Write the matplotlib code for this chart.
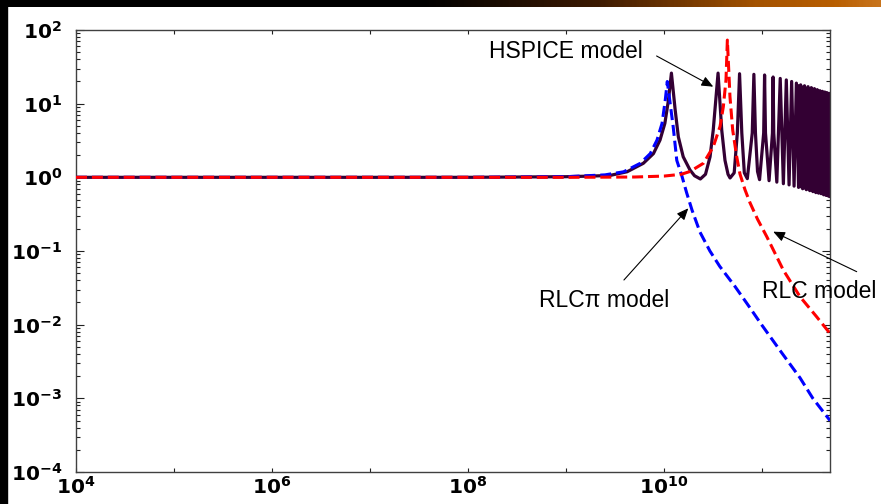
import numpy as np
import matplotlib
matplotlib.use("Agg")
import matplotlib.pyplot as plt
from matplotlib.ticker import FixedLocator, FuncFormatter, LogLocator, NullFormatter
from matplotlib.colors import LinearSegmentedColormap

plt.rcParams["font.family"] = ["Liberation Sans", "DejaVu Sans"]
plt.rcParams["mathtext.fontset"] = "custom"
plt.rcParams["mathtext.rm"] = "DejaVu Sans:bold"
plt.rcParams["mathtext.bf"] = "DejaVu Sans:bold"
plt.rcParams["mathtext.it"] = "DejaVu Sans:bold"

# ---- transfer-function magnitudes vs. frequency (Hz) ----
hspice_freq = [1e4, 1e8, 1e9, 1.8e9, 2.8e9, 4.2e9, 6.15e9, 7.8e9, 9.1e9, 1.02e10,
               1.11e10, 1.19e10, 1.3e10, 1.4e10, 1.57e10, 1.84e10, 2.05e10, 2.35e10,
               2.65e10, 2.95e10, 3.18e10, 3.56e10, 3.88e10, 4.19e10, 4.5e10, 4.72e10,
               5.2e10, 5.6e10, 5.9e10, 6.22e10, 6.6e10, 7.08e10, 7.95e10, 8.26e10,
               8.57e10, 9.0e10, 9.44e10, 1.04e11, 1.062e11, 1.085e11, 1.18e11,
               1.278e11, 1.298e11, 1.318e11, 1.416e11, 1.534e11, 1.652e11, 1.77e11,
               1.888e11, 2.006e11, 2.124e11, 2.242e11, 2.36e11, 2.478e11, 2.596e11,
               2.714e11, 2.832e11, 2.95e11, 3.068e11, 3.186e11, 3.304e11, 3.422e11,
               3.54e11, 3.658e11, 3.776e11, 3.894e11, 4.012e11, 4.13e11, 4.248e11,
               4.366e11, 4.484e11, 4.602e11, 4.72e11, 4.838e11, 4.956e11]
hspice_mag = [1.0, 1.0, 1.02, 1.04, 1.06, 1.19, 1.55, 2.1, 3.2, 5.4,
              11.2, 26.0, 8.2, 3.55, 1.9, 1.26, 1.05, 0.95,
              1.1, 1.9, 4.4, 26.0, 4.4, 1.7, 1.1, 0.98,
              1.15, 4.0, 25.5, 4.0, 1.15, 0.96, 4.0, 25.0,
              4.0, 1.2, 0.93, 4.0, 24.5, 4.0, 0.9,
              4.0, 23.0, 4.0, 0.86, 22.0, 0.82, 21.0,
              0.79, 20.0, 0.76, 19.0, 0.73, 18.0, 0.7,
              17.5, 0.68, 17.0, 0.66, 16.5, 0.64, 16.0,
              0.62, 15.5, 0.61, 15.0, 0.6, 14.7, 0.58,
              14.4, 0.57, 14.1, 0.56, 13.8, 0.55]

# envelope of the densely packed HSPICE resonances near the top of the band
dense_freq = [2.3e11, 2.7e11, 3.2e11, 3.8e11, 4.4e11, 4.956e11]
dense_low = [0.74, 0.69, 0.645, 0.605, 0.575, 0.55]
dense_high = [18.8, 17.6, 16.5, 15.2, 14.4, 13.8]

rlcpi_freq = [1e4, 1e8, 1e9, 2.5e9, 3.88e9, 5.73e9, 7.24e9, 8.48e9, 9.55e9, 1.03e10,
              1.08e10, 1.24e10, 1.35e10, 1.52e10, 1.7e10, 1.93e10, 2.33e10, 2.94e10,
              3.7e10, 5.3e10, 7.3e10, 1.0e11, 1.6e11, 2.44e11, 3.3e11, 4.94e11]
rlcpi_mag = [1.0, 1.0, 1.02, 1.08, 1.19, 1.55, 2.1, 3.2, 5.4, 11.2,
             20.0, 4.9, 1.7, 1.05, 0.62, 0.36, 0.18, 0.1,
             0.062, 0.033, 0.018, 0.0098, 0.0041, 0.0019, 0.001, 0.0005]

rlc_freq = [1e4, 1e9, 5e9, 1e10, 1.5e10, 1.84e10, 2.52e10, 3.18e10, 3.73e10, 4.03e10,
            4.29e10, 4.43e10, 4.71e10, 5.02e10, 5.52e10, 5.97e10, 6.7e10, 7.55e10,
            9.0e10, 1.12e11, 1.65e11, 2.44e11, 3.61e11, 4.94e11]
rlc_mag = [1.0, 1.0, 1.01, 1.04, 1.1, 1.2, 1.55, 2.6, 4.9, 9.1,
           21.0, 73.0, 12.4, 4.4, 1.9, 1.1, 0.68, 0.45,
           0.27, 0.156, 0.055, 0.024, 0.0128, 0.0076]

x_decades = [4, 5, 6, 7, 8, 9, 10, 11]
y_decades = [-4, -3, -2, -1, 0, 1, 2]

W, H = 881, 504
fig = plt.figure(figsize=(W / 100, H / 100), dpi=100, facecolor="white")

# slide frame: dark left edge and a dark-to-amber band across the top
fig.patches.append(plt.Rectangle((0, 0), 7 / W, 1, transform=fig.transFigure,
                                 color="black", zorder=0))
band = fig.add_axes([0, 1 - 7 / H, 1, 7 / H])
band_cmap = LinearSegmentedColormap.from_list(
    "band", [(0.0, "#000000"), (0.48, "#000000"), (0.68, "#3c1a02"),
             (0.86, "#a35200"), (0.95, "#b85e00"), (1.0, "#c8741c")])
band.imshow(np.linspace(0, 1, 400)[None, :], aspect="auto", cmap=band_cmap,
            extent=[0, 1, 0, 1])
band.set_axis_off()

ax = fig.add_axes([76 / W, 32 / H, (830 - 76) / W, (472 - 30) / H])
ax.set_xscale("log")
ax.set_yscale("log")
ax.set_xlim(1e4, 4.94e11)
ax.set_ylim(1e-4, 1e2)

hs_color = "#330033"
ax.plot(hspice_freq, hspice_mag, color=hs_color, lw=2.3, zorder=2)
ax.fill_between(dense_freq, dense_low, dense_high, color=hs_color, lw=0, zorder=2)
ax.plot(rlcpi_freq, rlcpi_mag, color="#0000ff", lw=2.2, dashes=(3.6, 1.6), zorder=3)
ax.plot(rlc_freq, rlc_mag, color="#ff0000", lw=2.2, dashes=(3.6, 1.6), zorder=4)

for s in ax.spines.values():
    s.set_color("#404040")
    s.set_linewidth(1.0)

ax.xaxis.set_major_locator(FixedLocator([10.0 ** d for d in x_decades]))
ax.xaxis.set_minor_locator(FixedLocator([]))
ax.xaxis.set_major_formatter(FuncFormatter(
    lambda v, p: r"$\mathbf{10^{%d}}$" % round(np.log10(v)) if round(np.log10(v)) % 2 == 0 else ""))
ax.yaxis.set_major_locator(FixedLocator([10.0 ** d for d in y_decades]))
ax.yaxis.set_minor_locator(LogLocator(base=10, subs=np.arange(2, 10), numticks=20))
ax.yaxis.set_minor_formatter(NullFormatter())
ax.yaxis.set_major_formatter(FuncFormatter(
    lambda v, p: r"$\mathbf{10^{%d}}$" % round(np.log10(v))))

ax.tick_params(axis="both", which="both", direction="in", top=True, right=True,
               color="#202020", width=0.8)
ax.tick_params(axis="x", which="major", length=3.2, pad=3, labelsize=14.5)
ax.tick_params(axis="y", which="major", length=5.5, pad=10, labelsize=14.5)
ax.tick_params(axis="y", which="minor", length=3.2)

# model annotations
arrow_style = dict(arrowstyle="-|>,head_length=0.7,head_width=0.3",
                   mutation_scale=10, lw=0.8, color="black", shrinkA=0, shrinkB=0)
ax.text(9.9e8, 50.7, "HSPICE model", ha="center", va="center", fontsize=16.5)
ax.annotate("", xy=(3.18e10, 17.0), xytext=(8.4e9, 44.4), arrowprops=arrow_style)
ax.text(2.44e9, 0.0216, "RLC\u03c0 model", ha="center", va="center", fontsize=16.5)
ax.annotate("", xy=(1.77e10, 0.38), xytext=(3.9e9, 0.0404), arrowprops=arrow_style)
ax.text(3.82e11, 0.028, "RLC model", ha="center", va="center", fontsize=16.5,
        clip_on=False, zorder=6)
ax.annotate("", xy=(1.3e11, 0.183), xytext=(9.25e11, 0.0524),
            annotation_clip=False, arrowprops=dict(arrow_style, clip_on=False))

fig.savefig("out.png", dpi=100, facecolor="white")
